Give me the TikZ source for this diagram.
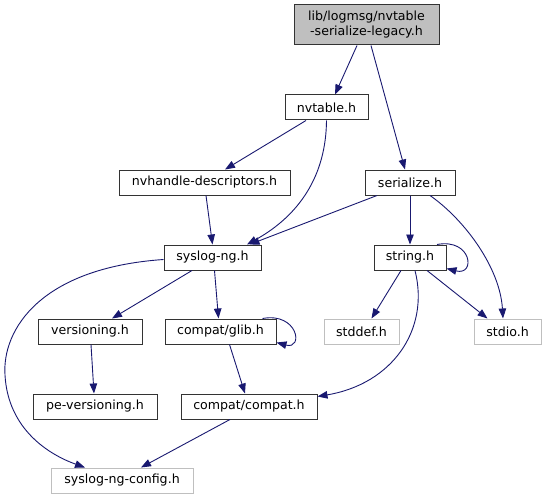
\documentclass[tikz,border=0pt]{standalone}
\usepackage{fontspec}
\setmainfont{DejaVu Sans}
\usepackage{tikz}
\usetikzlibrary{arrows.meta}
\definecolor{edgeblue}{RGB}{25,25,112}
\definecolor{boxgray}{RGB}{191,191,191}

\begin{document}
\begin{tikzpicture}[
  x=1pt, y=-1pt,
  % ── node styles ──────────────────────────────────────────────────────────
  hdr/.style={
    draw=black!80, line width=1pt,
    rectangle, minimum height=25pt, inner xsep=2pt, inner ysep=0pt,
    font=\fontsize{12.6}{15}\selectfont
  },
  % the file the graph is drawn for
  rootbox/.style={
    hdr, fill=boxgray, minimum height=40pt, align=center
  },
  % system headers (no own page)
  sysbox/.style={
    hdr, draw=boxgray
  },
  % include edges
  dep/.style={
    draw=edgeblue, line width=0.9pt,
    -{Triangle[length=10pt,width=7.5pt]}
  },
]

\useasboundingbox (0,0) rectangle (546,500);

% ── Headers ─────────────────────────────────────────────────────────────────
\node[rootbox, minimum width=145pt] (root)       at (366.5, 25)  {lib/logmsg/nvtable\\-serialize-legacy.h};
\node[hdr, minimum width=83pt]      (nvtable)    at (326.5,107.5) {nvtable.h};
\node[hdr, minimum width=171pt]     (nvhandle)   at (204.5,182.5) {nvhandle-descriptors.h};
\node[hdr, minimum width=90pt]      (serialize)  at (410,  182.5) {serialize.h};
\node[hdr, minimum width=97pt]      (syslogng)   at (212.5,257.5) {syslog-ng.h};
\node[hdr, minimum width=72pt]      (stringh)    at (410,  257.5) {string.h};
\node[hdr, minimum width=104pt]     (versioning) at (90,   331.5) {versioning.h};
\node[hdr, minimum width=111pt]     (glib)       at (220.5,331.5) {compat/glib.h};
\node[sysbox, minimum width=75pt]   (stddef)     at (361.5,331.5) {stddef.h};
\node[sysbox, minimum width=67pt]   (stdio)      at (507.5,331.5) {stdio.h};
\node[hdr, minimum width=124pt]     (peversion)  at (95,   406.5) {pe-versioning.h};
\node[hdr, minimum width=136pt]     (compat)     at (249,  406.5) {compat/compat.h};
\node[sysbox, minimum width=142pt]  (config)     at (122,  480.5) {syslog-ng-config.h};

% ── Includes of the root file ───────────────────────────────────────────────
\draw[dep] ([xshift=-9.5pt]root.south) -- ([xshift=8.5pt]nvtable.north);
\draw[dep] ([xshift=4.5pt]root.south) -- ([xshift=-5pt]serialize.north);

% ── nvtable.h / nvhandle-descriptors.h ──────────────────────────────────────
\draw[dep] ([xshift=-20.5pt]nvtable.south) -- ([xshift=20.5pt]nvhandle.north);
\draw[dep] (nvtable.south) .. controls (326,175) and (300,215) .. ([xshift=34.5pt]syslogng.north);
\draw[dep] ([xshift=1.5pt]nvhandle.south) -- (syslogng.north);

% ── serialize.h ─────────────────────────────────────────────────────────────
\draw[dep] ([xshift=-33pt]serialize.south) -- ([xshift=37pt]syslogng.north);
\draw[dep] (serialize) -- (stringh);
\draw[dep] ([xshift=20pt]serialize.south) .. controls (465,220) and (500,268) .. ([xshift=-4.5pt]stdio.north);

% ── string.h ────────────────────────────────────────────────────────────────
\draw[dep] ([xshift=27pt]stringh.north) .. controls (472,238) and (476,276) .. ([yshift=2pt]stringh.south east);
\draw[dep] ([xshift=-9pt]stringh.south) -- ([xshift=10pt]stddef.north);
\draw[dep] ([xshift=17pt]stringh.south) -- ([xshift=-20pt]stdio.north);
\draw[dep] ([xshift=5pt]stringh.south) .. controls (430,330) and (392,384) .. ([yshift=-3pt]compat.north east);

% ── syslog-ng.h ─────────────────────────────────────────────────────────────
\draw[dep] ([yshift=-2pt]syslogng.west) .. controls (40,268) and (2,330) .. (5,375)
  .. controls (8,430) and (50,455) .. ([xshift=-37pt]config.north);
\draw[dep] ([xshift=-20.5pt]syslogng.south) -- ([xshift=22pt]versioning.north);
\draw[dep] ([xshift=2pt]syslogng.south) -- ([xshift=-2pt]glib.north);

% ── compat/glib.h and below ─────────────────────────────────────────────────
\draw[dep] ([xshift=42pt]glib.north) .. controls (298,312) and (304,350) .. ([yshift=2pt]glib.south east);
\draw[dep] ([xshift=9pt]glib.south) -- ([xshift=-4pt]compat.north);
\draw[dep] ([xshift=1pt]versioning.south) -- ([xshift=-1pt]peversion.north);
\draw[dep] ([xshift=-19pt]compat.south) -- ([xshift=19pt]config.north);

\end{tikzpicture}
\end{document}
